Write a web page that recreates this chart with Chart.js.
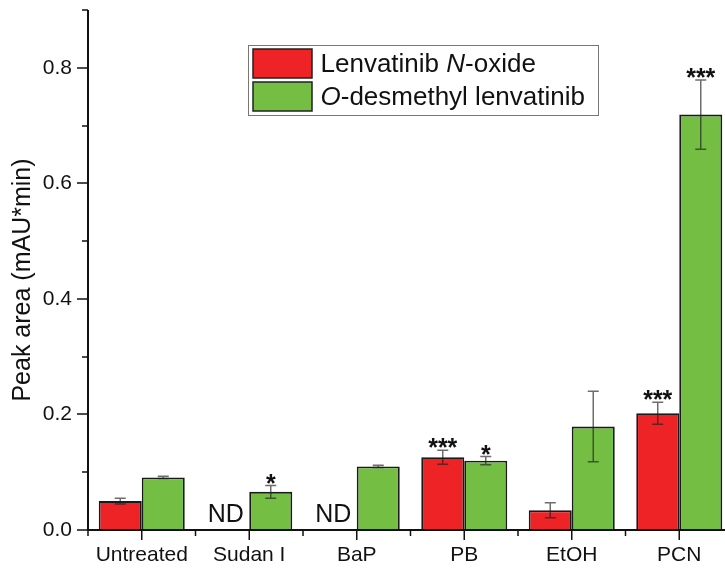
<!DOCTYPE html>
<html>
<head>
<meta charset="utf-8">
<script src="https://cdn.jsdelivr.net/npm/chart.js@4/dist/chart.umd.min.js"></script>
<style>
  html, body { margin: 0; padding: 0; background: #fff; overflow: hidden; }
  #wrap { width: 725px; height: 568px; overflow: hidden; }
</style>
</head>
<body>
<div id="wrap"><canvas id="c" width="740" height="568"></canvas></div>
<script>
const categories = ['Untreated', 'Sudan I', 'BaP', 'PB', 'EtOH', 'PCN'];
const nOxide = [0.050, null, null, 0.126, 0.034, 0.202];
const nOxideErr = [0.005, null, null, 0.012, 0.013, 0.019];
const nOxideMarks = ['', 'ND', 'ND', '***', '', '***'];
const desmethyl = [0.091, 0.066, 0.110, 0.120, 0.179, 0.719];
const desmethylErr = [0.002, 0.011, 0.002, 0.007, 0.061, 0.060];
const desmethylMarks = ['', '*', '', '*', '', '***'];
const yTickLabels = ['0.0', '0.2', '0.4', '0.6', '0.8'];
const yTickValues = [0, 0.2, 0.4, 0.6, 0.8];

const RED = '#EE2326';
const GREEN = '#74BE44';
const FONT = '"Liberation Sans", Arial, sans-serif';
const AXIS_LEFT = 88;

const decorPlugin = {
  id: 'decor',
  afterDatasetsDraw(chart) {
    const ctx = chart.ctx;
    const x = chart.scales.x, y = chart.scales.y;
    const errs = [nOxideErr, desmethylErr];
    const vals = [nOxide, desmethyl];
    const marks = [nOxideMarks, desmethylMarks];
    ctx.save();
    // error bars
    for (let d = 0; d < 2; d++) {
      const meta = chart.getDatasetMeta(d);
      meta.data.forEach((bar, i) => {
        const v = vals[d][i], e = errs[d][i];
        if (v == null || e == null) return;
        const cx = bar.x;
        const yt = y.getPixelForValue(v + e);
        const yb = y.getPixelForValue(v - e);
        ctx.strokeStyle = 'rgba(30,30,30,0.65)';
        ctx.lineWidth = 1.5;
        ctx.beginPath();
        ctx.moveTo(cx, yt); ctx.lineTo(cx, yb);
        ctx.moveTo(cx - 5.5, yt); ctx.lineTo(cx + 5.5, yt);
        ctx.moveTo(cx - 5.5, yb); ctx.lineTo(cx + 5.5, yb);
        ctx.stroke();
      });
    }
    // significance marks & ND
    ctx.fillStyle = '#111';
    ctx.textAlign = 'center';
    ctx.textBaseline = 'alphabetic';
    for (let d = 0; d < 2; d++) {
      const meta = chart.getDatasetMeta(d);
      meta.data.forEach((bar, i) => {
        const m = marks[d][i];
        if (!m) return;
        const cx = bar.x;
        if (m === 'ND') {
          ctx.font = '25px ' + FONT;
          ctx.fillText(m, cx - 2, y.getPixelForValue(0) - 8);
        } else {
          const v = vals[d][i], e = errs[d][i] || 0;
          ctx.font = 'bold 25px ' + FONT;
          ctx.fillText(m, cx, y.getPixelForValue(v + e) + 6);
        }
      });
    }
    // axes
    ctx.strokeStyle = '#111';
    ctx.lineWidth = 2;
    const y0 = y.getPixelForValue(0);
    ctx.beginPath();
    ctx.moveTo(AXIS_LEFT, y.getPixelForValue(0.9));
    ctx.lineTo(AXIS_LEFT, y0 + 1);
    ctx.moveTo(AXIS_LEFT - 1, y0);
    ctx.lineTo(chart.width, y0);
    ctx.stroke();
    // y ticks
    ctx.lineWidth = 1.5;
    ctx.beginPath();
    y.ticks.forEach(t => {
      const major = Math.round(t.value * 10) % 2 === 0;
      const len = major ? 11 : 6;
      const py = Math.round(y.getPixelForValue(t.value));
      ctx.moveTo(AXIS_LEFT - len, py); ctx.lineTo(AXIS_LEFT, py);
    });
    // x ticks
    const step = x.getPixelForValue(1) - x.getPixelForValue(0);
    categories.forEach((c, i) => {
      const px = x.getPixelForValue(i);
      ctx.moveTo(px, y0); ctx.lineTo(px, y0 + 10);
      ctx.moveTo(px - step / 2, y0); ctx.lineTo(px - step / 2, y0 + 6);
      ctx.moveTo(px + step / 2, y0); ctx.lineTo(px + step / 2, y0 + 6);
    });
    ctx.stroke();
    // y title
    ctx.save();
    ctx.translate(30, 280);
    ctx.rotate(-Math.PI / 2);
    ctx.font = '25px ' + FONT;
    ctx.textAlign = 'center';
    ctx.textBaseline = 'alphabetic';
    ctx.fillStyle = '#111';
    ctx.fillText('Peak area (mAU*min)', 0, 0);
    ctx.restore();
    // legend
    const lx = 248.5, ly = 45.5, lw = 350, lh = 70;
    ctx.fillStyle = '#fff';
    ctx.fillRect(lx, ly, lw, lh);
    ctx.strokeStyle = '#777';
    ctx.lineWidth = 1;
    ctx.strokeRect(lx, ly, lw, lh);
    const items = [
      { color: RED, parts: [['Lenvatinib ', false], ['N', true], ['-oxide', false]], top: 49 },
      { color: GREEN, parts: [['O', true], ['-desmethyl lenvatinib', false]], top: 82 }
    ];
    items.forEach(it => {
      ctx.fillStyle = it.color;
      ctx.fillRect(253, it.top, 59, 29);
      ctx.strokeStyle = '#222';
      ctx.lineWidth = 1.5;
      ctx.strokeRect(253, it.top, 59, 29);
      let tx = 320.5;
      ctx.fillStyle = '#111';
      ctx.textAlign = 'left';
      ctx.textBaseline = 'alphabetic';
      it.parts.forEach(([s, ital]) => {
        ctx.font = (ital ? 'italic ' : '') + '26px ' + FONT;
        ctx.fillText(s, tx, it.top + 23);
        tx += ctx.measureText(s).width;
      });
    });
    ctx.restore();
  }
};

new Chart(document.getElementById('c'), {
  type: 'bar',
  data: {
    labels: categories,
    datasets: [
      { label: 'Lenvatinib N-oxide', data: nOxide, backgroundColor: RED, borderColor: '#1a1a1a', borderWidth: 1.8 },
      { label: 'O-desmethyl lenvatinib', data: desmethyl, backgroundColor: GREEN, borderColor: '#1a1a1a', borderWidth: 1.8 }
    ]
  },
  options: {
    responsive: false,
    animation: false,
    devicePixelRatio: 1,
    layout: { padding: { top: 10, right: 7, left: 0, bottom: 0 } },
    datasets: { bar: { categoryPercentage: 0.8, barPercentage: 1.0 } },
    plugins: { legend: { display: false }, tooltip: { enabled: false } },
    scales: {
      x: {
        grid: { display: false, drawTicks: false },
        border: { display: false },
        ticks: { font: { family: FONT, size: 21 }, color: '#111', padding: 13, maxRotation: 0, autoSkip: false },
        afterFit: s => { s.height = 38; s.paddingLeft = 0; s.paddingRight = 0; }
      },
      y: {
        min: 0, max: 0.9,
        grid: { display: false, drawTicks: false },
        border: { display: false },
        ticks: {
          stepSize: 0.1,
          padding: 16,
          font: { family: FONT, size: 21 },
          color: '#111',
          callback: v => {
            const idx = yTickValues.findIndex(t => Math.abs(t - v) < 1e-6);
            return idx >= 0 ? yTickLabels[idx] : '';
          }
        },
        afterFit: s => { s.width = AXIS_LEFT; s.paddingTop = 0; s.paddingBottom = 0; }
      }
    }
  },
  plugins: [decorPlugin]
});
</script>
</body>
</html>
